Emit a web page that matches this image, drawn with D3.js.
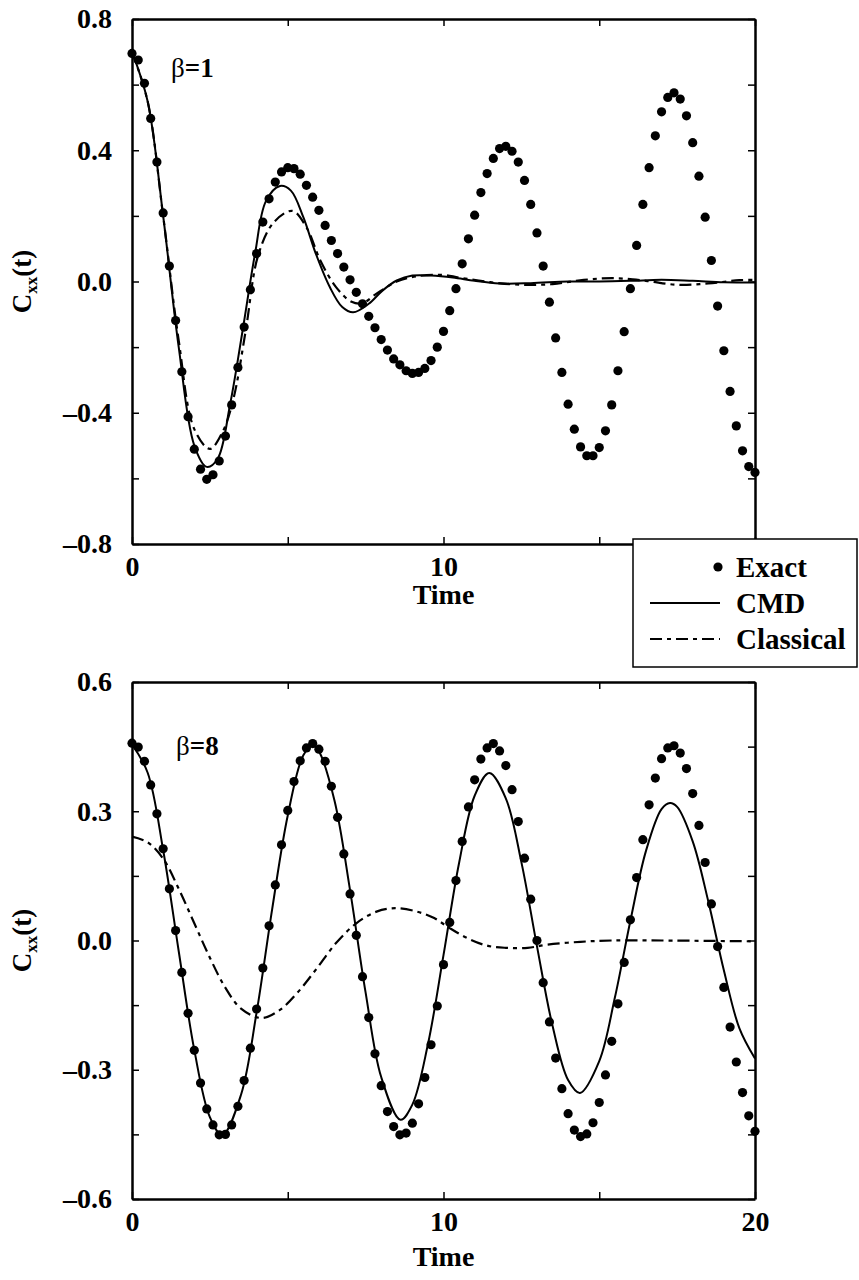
<!DOCTYPE html>
<html lang="en">
  <head>
    <meta charset="utf-8">
    <title>Cxx(t): Exact, CMD and Classical</title>
    <script src="https://cdn.jsdelivr.net/npm/d3@7"></script>
    <style>
      body { margin: 0; background: #fff; }
      svg text { font-family: "Liberation Serif", "Times New Roman", serif; font-weight: bold; fill: #000; }
      .tick text { font-size: 28px; }
      .axis path, .axis line { stroke: #000; }
    </style>
  </head>
  <body>
    <script type="text/javascript">
      // ---- data ----
      var timeExact = [0, 0.2, 0.4, 0.6, 0.8, 1, 1.2, 1.4, 1.6, 1.8, 2, 2.2, 2.4, 2.6, 2.8, 3, 3.2, 3.4, 3.6, 3.8,
        4, 4.2, 4.4, 4.6, 4.8, 5, 5.2, 5.4, 5.6, 5.8, 6, 6.2, 6.4, 6.6, 6.8, 7, 7.2, 7.4, 7.6, 7.8,
        8, 8.2, 8.4, 8.6, 8.8, 9, 9.2, 9.4, 9.6, 9.8, 10, 10.2, 10.4, 10.6, 10.8, 11, 11.2, 11.4, 11.6, 11.8,
        12, 12.2, 12.4, 12.6, 12.8, 13, 13.2, 13.4, 13.6, 13.8, 14, 14.2, 14.4, 14.6, 14.8, 15, 15.2, 15.4, 15.6, 15.8,
        16, 16.2, 16.4, 16.6, 16.8, 17, 17.2, 17.4, 17.6, 17.8, 18, 18.2, 18.4, 18.6, 18.8, 19, 19.2, 19.4, 19.6, 19.8, 20];

      // beta = 1
      var exact1 = [0.695, 0.675, 0.604, 0.497, 0.364, 0.209, 0.047, -0.119, -0.275, -0.412,
        -0.511, -0.572, -0.603, -0.589, -0.547, -0.471, -0.376, -0.262, -0.139, -0.025,
        0.085, 0.181, 0.252, 0.303, 0.334, 0.347, 0.344, 0.327, 0.293, 0.257,
        0.217, 0.171, 0.125, 0.085, 0.044, 0.005, -0.033, -0.068, -0.106, -0.141,
        -0.177, -0.209, -0.236, -0.254, -0.272, -0.280, -0.277, -0.265, -0.241, -0.200,
        -0.152, -0.089, -0.022, 0.054, 0.130, 0.202, 0.271, 0.329, 0.375, 0.405,
        0.412, 0.397, 0.364, 0.308, 0.235, 0.148, 0.047, -0.063, -0.172, -0.277,
        -0.374, -0.450, -0.504, -0.531, -0.531, -0.506, -0.455, -0.376, -0.272, -0.153,
        -0.022, 0.110, 0.235, 0.347, 0.444, 0.517, 0.561, 0.575, 0.556, 0.505,
        0.423, 0.321, 0.196, 0.064, -0.075, -0.211, -0.335, -0.440, -0.516, -0.564, -0.582];

      var timeCmd1 = [0, 0.5, 1, 1.5, 2, 2.4, 2.75, 3.15, 3.55, 3.95, 4.3, 4.75, 5.1, 5.5, 5.9, 6.35, 6.75, 7.1,
        7.6, 8.05, 8.5, 9, 9.6, 10.3, 11, 11.8, 12.8, 14, 15, 16, 17, 18, 19, 20];
      var cmd1 = [0.70, 0.55, 0.20, -0.20, -0.50, -0.565, -0.54, -0.374, -0.15, 0.085, 0.245, 0.291, 0.277, 0.196,
        0.085, -0.017, -0.078, -0.094, -0.068, -0.027, 0.003, 0.018, 0.018, 0.012, 0.002, -0.006, -0.005,
        0.0, 0.0, 0.002, 0.005, 0.002, -0.002, -0.003];

      var timeClassical1 = [0, 0.5, 1, 1.5, 2, 2.5, 2.9, 3.25, 3.65, 4.05, 4.55, 5.15, 5.6, 6.05, 6.55, 7.05, 7.4,
        7.85, 8.5, 9.15, 10, 10.5, 11.5, 12.5, 13.5, 14.5, 15.5, 16.5, 17.5, 18.5, 19.5, 20];
      var classical1 = [0.70, 0.55, 0.20, -0.18, -0.45, -0.51, -0.46, -0.36, -0.15, 0.08, 0.18, 0.215, 0.165,
        0.063, -0.017, -0.062, -0.066, -0.037, 0.0, 0.016, 0.02, 0.012, -0.002, -0.01, -0.008, 0.005,
        0.01, 0.002, -0.01, -0.006, 0.004, 0.005];

      // beta = 8
      var exact8 = [0.458, 0.449, 0.416, 0.361, 0.294, 0.213, 0.120, 0.023, -0.074, -0.169,
        -0.255, -0.331, -0.391, -0.428, -0.451, -0.450, -0.428, -0.385, -0.325, -0.250,
        -0.159, -0.064, 0.034, 0.129, 0.222, 0.302, 0.369, 0.417, 0.447, 0.457,
        0.444, 0.416, 0.358, 0.286, 0.201, 0.108, 0.012, -0.084, -0.179, -0.263,
        -0.337, -0.397, -0.432, -0.451, -0.447, -0.424, -0.379, -0.318, -0.242, -0.152,
        -0.056, 0.042, 0.139, 0.230, 0.310, 0.373, 0.421, 0.447, 0.457, 0.440,
        0.406, 0.350, 0.276, 0.191, 0.096, 0.000, -0.098, -0.189, -0.273, -0.344,
        -0.402, -0.440, -0.455, -0.449, -0.423, -0.376, -0.312, -0.234, -0.147, -0.051,
        0.048, 0.146, 0.234, 0.315, 0.377, 0.422, 0.447, 0.452, 0.435, 0.399,
        0.341, 0.267, 0.181, 0.085, -0.014, -0.109, -0.201, -0.282, -0.353, -0.407, -0.443];

      var timeCmd8 = [0, 0.5, 1, 1.5, 2, 2.5, 2.9, 3.5, 4, 4.5, 5, 5.5, 5.8, 6, 6.5, 7, 7.5, 8, 8.62, 9, 9.5,
        10, 10.5, 11, 11.47, 12, 12.5, 13, 13.5, 14, 14.38, 15, 15.5, 16, 16.5, 17, 17.27, 17.5, 18,
        18.5, 19, 19.5, 20];
      var cmd8 = [0.455, 0.39, 0.21, -0.025, -0.254, -0.41, -0.452, -0.358, -0.167, 0.073, 0.29, 0.43, 0.452,
        0.439, 0.325, 0.117, -0.121, -0.317, -0.416, -0.381, -0.241, -0.034, 0.18, 0.336, 0.389, 0.33,
        0.182, -0.013, -0.198, -0.324, -0.354, -0.28, -0.133, 0.046, 0.208, 0.305, 0.319, 0.31, 0.23,
        0.091, -0.069, -0.204, -0.274];

      var timeClassical8 = [0, 0.5, 1, 1.5, 2, 2.5, 3, 3.5, 4.16, 4.75, 5.3, 5.9, 6.55, 7.2, 7.85, 8.45, 9.15,
        9.7, 10.15, 10.75, 11.4, 12, 12.7, 13.3, 14.4, 15.4, 17, 20];
      var classical8 = [0.241, 0.228, 0.19, 0.12, 0.04, -0.04, -0.11, -0.158, -0.18, -0.161, -0.122, -0.068,
        -0.006, 0.04, 0.067, 0.075, 0.067, 0.052, 0.031, 0.006, -0.012, -0.017, -0.017, -0.010, -0.003,
        0.0, 0.0, -0.002];

      var xTicks = [0, 5, 10, 15, 20];
      var xLabels1 = [0, 10];       // the 20 of the top panel sits under the legend
      var xLabels8 = [0, 10, 20];
      var yTicks1 = [-0.8, -0.6, -0.4, -0.2, 0, 0.2, 0.4, 0.6, 0.8];
      var yLabels1 = [-0.8, -0.4, 0, 0.4, 0.8];
      var yTicks8 = [-0.6, -0.45, -0.3, -0.15, 0, 0.15, 0.3, 0.45, 0.6];
      var yLabels8 = [-0.6, -0.3, 0, 0.3, 0.6];
      var legendNames = ["Exact", "CMD", "Classical"];

      // ---- layout ----
      var w = 859, h = 1280;
      var left = 132, right = 755;
      var classicalDash = "12,5,4,5";

      var svg = d3.select("body")
                  .append("svg")
                  .attr("width", w)
                  .attr("height", h);

      var xScale = d3.scaleLinear()
                     .domain([0, 20])
                     .range([left, right]);

      function fmt(d) {
        var s = Math.abs(d).toFixed(1);
        return d < 0 ? "\u2013" + s : s;
      }

      function has(list, d) {
        return list.some(function(v) { return Math.abs(v - d) < 1e-9; });
      }

      function drawPanel(p) {
        var yScale = d3.scaleLinear()
                       .domain(p.yDomain)
                       .range([p.bottom, p.top]);
        var g = svg.append("g");

        // frame with inward ticks
        g.append("g")
         .attr("class", "axis")
         .attr("transform", "translate(0," + p.bottom + ")")
         .call(d3.axisBottom(xScale).tickValues(xTicks).tickSizeInner(-7).tickSizeOuter(0).tickPadding(12)
               .tickFormat(function(d) { return has(p.xLabels, d) ? d : ""; }));
        g.append("g")
         .attr("class", "axis")
         .attr("transform", "translate(0," + p.top + ")")
         .call(d3.axisTop(xScale).tickValues(xTicks).tickSizeInner(-7).tickSizeOuter(0).tickFormat(""));
        g.append("g")
         .attr("class", "axis")
         .attr("transform", "translate(" + left + ",0)")
         .call(d3.axisLeft(yScale).tickValues(p.yTicks).tickSizeInner(-7).tickSizeOuter(0).tickPadding(20)
               .tickFormat(function(d) { return has(p.yLabels, d) ? fmt(d) : ""; }));
        g.append("g")
         .attr("class", "axis")
         .attr("transform", "translate(" + right + ",0)")
         .call(d3.axisRight(yScale).tickValues(p.yTicks).tickSizeInner(-7).tickSizeOuter(0).tickFormat(""));

        g.selectAll(".axis .domain").attr("stroke-width", 2.5);
        g.selectAll(".axis .tick line").attr("stroke-width", 1.5);
        g.selectAll(".axis").attr("font-family", null).attr("font-size", null);

        var line = d3.line()
                     .x(function(d) { return xScale(d[0]); })
                     .y(function(d) { return yScale(d[1]); })
                     .curve(d3.curveCatmullRom);

        g.append("path")
         .datum(d3.zip(p.tClassical, p.classical))
         .attr("d", line)
         .attr("fill", "none")
         .attr("stroke", "#000")
         .attr("stroke-width", 2.2)
         .attr("stroke-dasharray", classicalDash);

        g.append("path")
         .datum(d3.zip(p.tCmd, p.cmd))
         .attr("d", line)
         .attr("fill", "none")
         .attr("stroke", "#000")
         .attr("stroke-width", 2);

        g.selectAll("circle")
         .data(d3.zip(timeExact, p.exact))
         .enter()
         .append("circle")
         .attr("cx", function(d) { return xScale(d[0]); })
         .attr("cy", function(d) { return yScale(d[1]); })
         .attr("r", 4.6)
         .attr("fill", "#000");

        // beta label
        var b = g.append("text")
                 .attr("x", p.betaX)
                 .attr("y", p.betaY)
                 .attr("font-size", 27);
        b.append("tspan").attr("font-weight", "normal").text("\u03b2");
        b.append("tspan").text("=" + p.beta);

        // axis titles
        g.append("text")
         .attr("x", (left + right) / 2)
         .attr("y", p.timeY)
         .attr("text-anchor", "middle")
         .attr("font-size", 28)
         .text("Time");

        var yl = g.append("text")
                  .attr("transform", "translate(31," + (p.top + p.bottom) / 2 + ") rotate(-90)")
                  .attr("text-anchor", "middle")
                  .attr("font-size", 27);
        yl.append("tspan").text("C");
        yl.append("tspan").attr("font-size", 17).attr("dy", 6).text("xx");
        yl.append("tspan").attr("dy", -6).text("(t)");
      }

      drawPanel({
        top: 19, bottom: 544, yDomain: [-0.8, 0.8],
        xLabels: xLabels1, yTicks: yTicks1, yLabels: yLabels1,
        exact: exact1, tCmd: timeCmd1, cmd: cmd1, tClassical: timeClassical1, classical: classical1,
        beta: "1", betaX: 171, betaY: 77, timeY: 604
      });

      drawPanel({
        top: 682, bottom: 1199, yDomain: [-0.6, 0.6],
        xLabels: xLabels8, yTicks: yTicks8, yLabels: yLabels8,
        exact: exact8, tCmd: timeCmd8, cmd: cmd8, tClassical: timeClassical8, classical: classical8,
        beta: "8", betaX: 176, betaY: 755, timeY: 1266
      });

      // legend box, sits over the lower right corner of the top panel
      var legend = svg.append("g");
      legend.append("rect")
            .attr("x", 633)
            .attr("y", 539)
            .attr("width", 224)
            .attr("height", 128)
            .attr("fill", "#fff")
            .attr("stroke", "#000")
            .attr("stroke-width", 1.5);

      var rowY = [567, 603, 639];
      legend.append("circle")
            .attr("cx", 718).attr("cy", rowY[0]).attr("r", 4.6).attr("fill", "#000");
      legend.append("line")
            .attr("x1", 650).attr("x2", 720).attr("y1", rowY[1]).attr("y2", rowY[1])
            .attr("stroke", "#000").attr("stroke-width", 2);
      legend.append("line")
            .attr("x1", 650).attr("x2", 720).attr("y1", rowY[2]).attr("y2", rowY[2])
            .attr("stroke", "#000").attr("stroke-width", 2.2)
            .attr("stroke-dasharray", classicalDash);

      legend.selectAll("text.name")
            .data(legendNames)
            .enter()
            .append("text")
            .attr("class", "name")
            .attr("x", 736)
            .attr("y", function(d, i) { return rowY[i] + 10; })
            .attr("font-size", 29)
            .text(function(d) { return d; });
    </script>
  </body>
</html>
